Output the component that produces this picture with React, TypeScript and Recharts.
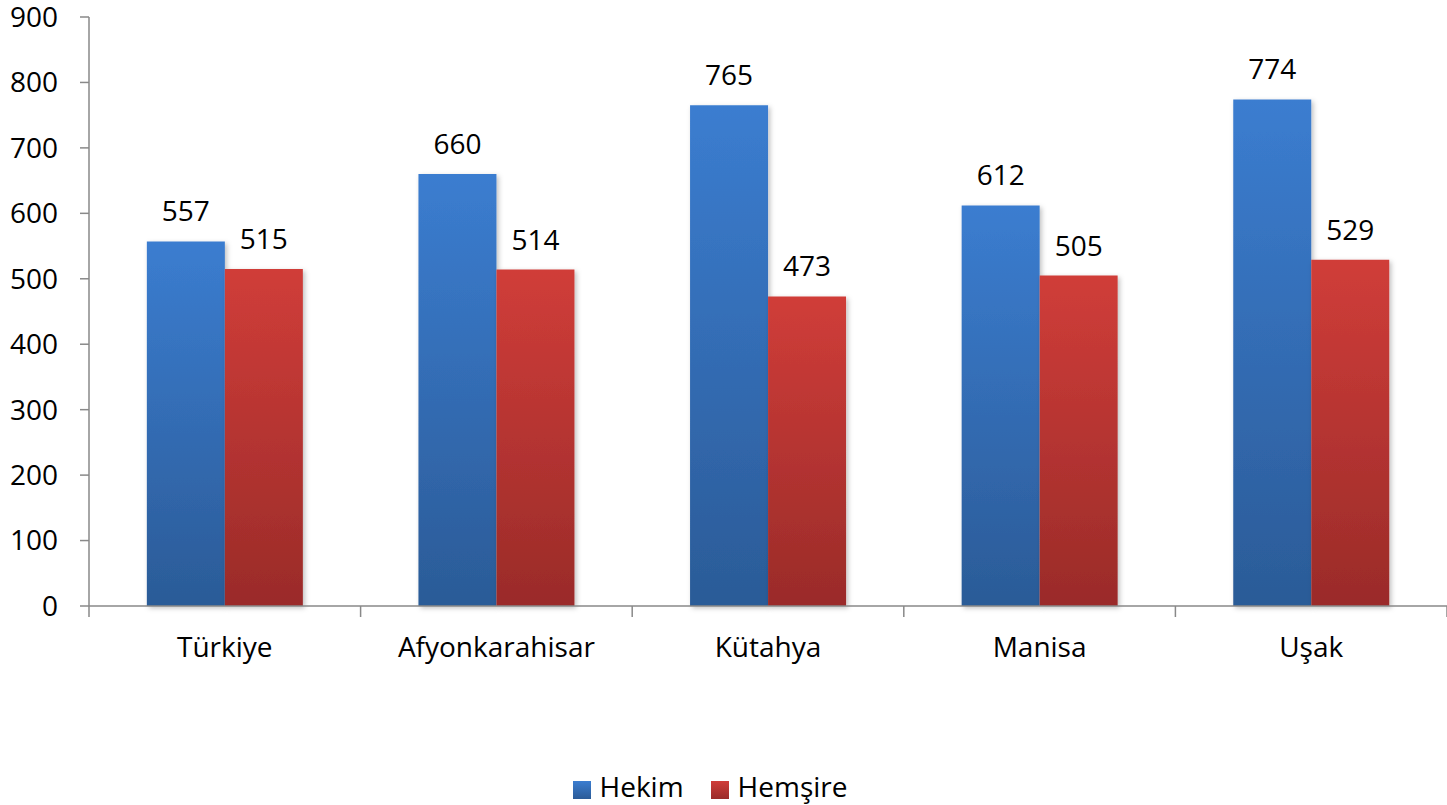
import React from 'react';
import { BarChart, Bar, XAxis, YAxis, Legend, LabelList } from 'recharts';

const categories = ['Türkiye', 'Afyonkarahisar', 'Kütahya', 'Manisa', 'Uşak'];
const hekimValues = [557, 660, 765, 612, 774];
const hemsireValues = [515, 514, 473, 505, 529];
const yTicks = [0, 100, 200, 300, 400, 500, 600, 700, 800, 900];

const data = categories.map((name, i) => ({
  name,
  Hekim: hekimValues[i],
  Hemşire: hemsireValues[i],
}));

const FONT = '"Open Sans", sans-serif';
const AXIS = '#898989';

const CategoryTick = (props: any) => {
  const { x, y, payload, width, visibleTicksCount, index } = props;
  const half = payload && payload.offset ? payload.offset : width / visibleTicksCount / 2;
  return (
    <g>
      <line x1={x - half} x2={x - half} y1={y} y2={y + 11} stroke={AXIS} strokeWidth={1.5} />
      {index === visibleTicksCount - 1 && (
        <line x1={x + half} x2={x + half} y1={y} y2={y + 11} stroke={AXIS} strokeWidth={1.5} />
      )}
      <text x={x} y={y + 50.5} textAnchor="middle" fontSize={28} fontFamily={FONT} fill="#000">
        {payload.value}
      </text>
    </g>
  );
};

export default function App() {
  return (
    <div style={{ position: 'absolute', left: 0, top: 0, width: 1447, height: 805, background: '#fff', fontFamily: FONT }}>
      <BarChart
        width={1447}
        height={805}
        data={data}
        margin={{ top: 17, right: 0, left: 0, bottom: 3 }}
        barCategoryGap="21.3%"
        barGap={0}
      >
        <defs>
          <linearGradient id="gradBlue" x1="0" y1="0" x2="0" y2="1">
            <stop offset="0%" stopColor="#3b7dd0" />
            <stop offset="100%" stopColor="#2b5b97" />
          </linearGradient>
          <linearGradient id="gradRed" x1="0" y1="0" x2="0" y2="1">
            <stop offset="0%" stopColor="#d03d39" />
            <stop offset="100%" stopColor="#9a2b29" />
          </linearGradient>
          <filter id="barShadow" x="-10%" y="-10%" width="120%" height="120%">
            <feDropShadow dx="2" dy="2" stdDeviation="2.5" floodColor="#000" floodOpacity="0.25" />
          </filter>
        </defs>
        <XAxis
          dataKey="name"
          height={165}
          tickLine={false}
          tickSize={0}
          tickMargin={0}
          stroke={AXIS}
          strokeWidth={1.5}
          tick={<CategoryTick />}
          interval={0}
        />
        <YAxis
          width={89}
          domain={[0, 900]}
          ticks={yTicks}
          interval={0}
          tickSize={9}
          tickMargin={22}
          stroke={AXIS}
          strokeWidth={1.5}
          tick={{ fill: '#000', fontSize: 28, fontFamily: FONT }}
        />
        <Legend
          verticalAlign="bottom"
          align="center"
          iconType="square"
          iconSize={18}
          wrapperStyle={{ fontSize: 28, fontFamily: FONT, lineHeight: '31px' }}
          formatter={(value: string) => (
            <span style={{ color: '#000', marginLeft: 5, marginRight: 17 }}>{value}</span>
          )}
        />
        <Bar dataKey="Hekim" fill="url(#gradBlue)" isAnimationActive={false} filter="url(#barShadow)">
          <LabelList dataKey="Hekim" position="top" offset={20} fill="#000" fontSize={28} fontFamily={FONT} />
        </Bar>
        <Bar dataKey="Hemşire" fill="url(#gradRed)" isAnimationActive={false} filter="url(#barShadow)">
          <LabelList dataKey="Hemşire" position="top" offset={20} fill="#000" fontSize={28} fontFamily={FONT} />
        </Bar>
      </BarChart>
    </div>
  );
}
